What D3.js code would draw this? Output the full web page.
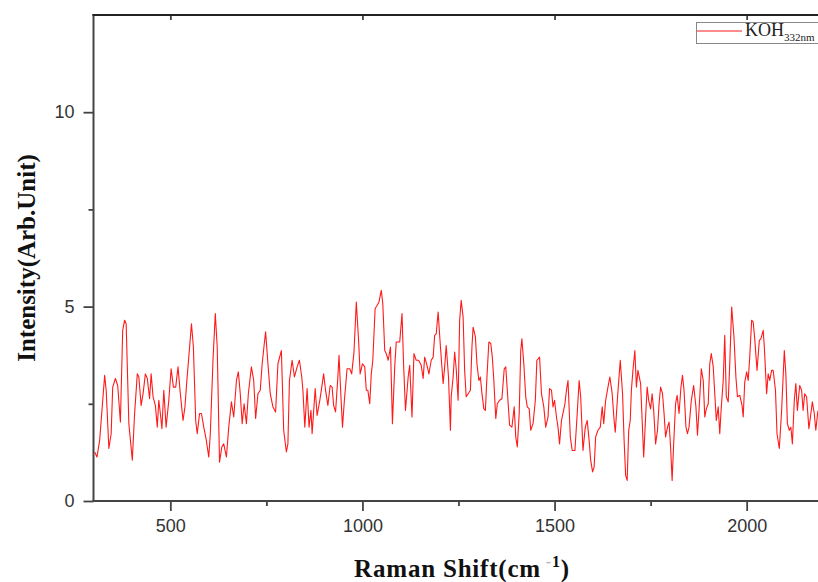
<!DOCTYPE html>
<html>
<head>
<meta charset="utf-8">
<script src="https://cdn.jsdelivr.net/npm/d3@7"></script>
<style>
  html, body { margin: 0; padding: 0; background: #fff; }
  svg { display: block; }
</style>
</head>
<body>
<svg id="chart" width="818" height="582"></svg>
<script>
// ---- Data ----
const wavenumbers = [303,309,316,329,333,340,346,350,357,363,370,376,381,385,392,401,407,414,418,424,429,435,440,446,450,455,461,466,470,474,478,483,489,496,502,508,514,520,526,533,538,543,548,555,560,566,570,576,581,587,593,600,604,611,617,622,628,634,639,646,652,659,665,672,677,682,687,692,698,703,711,717,722,728,734,739,744,748,754,760,767,774,780,
789,795,802,806,810,817,823,830,836,842,845,850,856,861,866,869,877,882,889,893,899,904,910,916,921,925,930,936,939,942,948,953,960,967,972,978,984,990,994,1000,1006,1010,1014,1019,1023,1027,1033,1038,1043,1049,1053,1058,1062,1067,1073,1078,1084,1088,1097,1103,1107,1112,1119,1123,1129,1134,1140,1146,1153,1158,1162,1168,1173,1179,1184,1188,1192,1197,1203,1210,1214,1218,1224,1229,
1231,1236,1240,1244,1249,1253,1257,1262,1266,1270,1275,1281,1285,1288,1294,1298,1303,1307,1311,1316,1320,1324,1329,1334,1338,1342,1347,1351,1357,1363,1369,1373,1377,1383,1389,1395,1399,1403,1408,1412,1415,1420,1425,1429,1434,1438,1444,1450,1454,1461,1466,1472,1477,1483,1487,1492,1496,1500,1505,1509,1513,1518,1527,1531,1535,1541,1546,1553,1559,1564,1568,1574,1580,1585,1590,1594,1599,1603,1607,1613,1619,1624,1628,1633,1639,1644,1650,1655,1658,1664,1671,1677,1681,1685,1689,1693,1697,
1700,1704,1709,1713,1717,1724,1728,1732,1737,1741,1745,1750,1754,1758,1763,1768,1772,1776,1781,1785,1789,1794,1798,1802,1806,1810,1815,1819,1824,1829,1833,1837,1842,1846,1850,1856,1862,1868,1872,1876,1882,1887,1891,1895,1900,1904,1908,1913,1917,1921,1926,1930,1934,1939,1943,1947,1952,1956,1961,1967,1972,1976,1982,1988,1991,1995,2000,2004,2008,2013,2017,2021,2027,2033,2037,2043,2046,2052,2056,2060,2065,2069,2075,2079,2085,2091,2098,2102,2106,2111,2115,2119,2124,2128,2132,2138,2143,2147,2151,2156,2162,2166,2171,2176,2180,2185,2192,2200];

const intensity = [1.26,1.13,1.56,3.23,2.85,1.35,1.73,2.93,3.15,2.97,2.03,4.39,4.65,4.56,1.99,1.05,2.25,3.27,3.19,2.46,2.76,3.27,3.15,2.63,3.27,2.68,2.46,1.90,2.59,2.25,1.86,2.85,1.90,2.59,3.40,2.93,2.93,3.45,2.76,2.07,2.42,3.10,3.70,4.56,3.96,2.07,1.73,2.25,2.25,1.90,1.60,1.13,1.73,3.62,4.82,3.96,1.00,1.39,1.47,1.13,1.90,2.55,2.16,3.10,3.32,2.76,1.99,2.50,1.99,2.76,3.45,3.10,2.12,2.76,2.85,3.53,4.00,4.35,3.53,2.76,2.42,2.29,3.53,
3.87,1.82,1.26,1.47,3.10,3.62,3.19,3.45,3.62,3.19,2.85,1.90,2.89,1.90,2.33,1.73,2.89,2.20,2.59,2.85,3.27,2.85,2.46,2.97,2.93,2.46,2.29,3.19,3.75,3.10,1.90,2.59,3.40,3.40,3.27,3.83,5.12,4.13,3.27,3.53,3.45,2.85,2.85,2.50,3.27,3.62,4.95,5.03,5.12,5.42,5.07,3.87,3.79,3.62,3.96,1.99,3.45,4.09,4.09,4.82,3.53,2.33,3.19,3.49,2.16,3.79,3.62,3.62,3.49,3.15,3.70,3.49,3.27,3.62,3.70,4.26,4.30,4.86,3.96,3.02,3.45,4.00,3.19,1.82,
2.68,3.19,3.83,3.40,2.59,4.65,5.16,4.73,3.36,2.68,2.76,2.85,3.96,4.47,4.22,3.53,3.10,3.19,2.76,2.37,2.33,3.19,4.09,4.05,3.70,3.10,2.12,2.50,2.59,2.63,3.40,3.45,2.85,1.95,1.90,2.42,1.65,1.39,2.25,3.87,4.17,3.53,2.68,2.42,2.37,1.82,1.99,2.59,3.62,3.70,2.76,2.42,1.90,2.16,2.89,2.85,2.42,2.59,2.16,1.90,1.47,2.07,2.50,2.85,3.10,1.65,1.30,1.30,2.25,3.10,2.68,1.30,1.90,2.07,1.56,1.05,0.75,0.87,1.65,1.82,1.90,2.42,1.99,2.59,2.93,3.19,2.76,2.07,1.77,2.68,3.62,2.76,1.56,0.66,0.53,1.82,2.07,
2.85,3.36,3.87,2.93,3.36,3.02,2.07,1.13,2.16,2.93,2.59,2.37,2.76,2.33,1.47,1.82,2.50,2.93,2.76,2.25,1.65,1.90,2.03,1.39,0.53,1.47,2.50,2.72,2.25,2.93,3.23,2.85,1.90,1.73,1.90,2.59,2.97,2.42,1.69,2.33,3.40,3.10,2.16,2.37,2.50,3.53,3.79,3.45,2.76,2.07,2.42,1.73,2.42,3.10,4.26,2.68,2.55,3.53,4.99,4.22,3.19,2.68,2.72,2.46,2.16,3.06,3.32,3.10,3.70,4.65,4.60,4.17,3.36,4.13,4.17,4.39,3.96,2.76,3.27,3.10,3.36,3.36,2.85,1.73,1.35,2.33,3.87,3.27,1.99,1.82,1.90,1.47,2.59,3.02,2.33,2.97,2.85,2.33,2.76,2.68,1.86,2.16,2.55,2.25,1.82,2.29,2.45,2.10];

const xDomain = [300, 2200];
const yDomain = [0, 12.5];
const xMajorTicks = [500, 1000, 1500, 2000];
const xMinorTicks = [750, 1250, 1750];
const yMajorTicks = [0, 5, 10];
const yMinorTicks = [2.5, 7.5];
const seriesName = "KOH";
const seriesSub = "332nm";
const xTitle = "Raman Shift(cm";
const yTitle = "Intensity(Arb.Unit)";

// ---- Layout ----
const svg = d3.select("#chart");
const pL = 93.5, pR = 823.5, pT = 15, pB = 501;
const x = d3.scaleLinear().domain(xDomain).range([pL, pR]);
const y = d3.scaleLinear().domain(yDomain).range([pB, pT]);

const axisColor = "#444";
const tickFont = "'Liberation Sans', Arial, sans-serif";
const serif = "'Liberation Serif', 'Times New Roman', serif";

svg.append("defs").append("clipPath").attr("id", "plotClip")
  .append("rect").attr("x", pL).attr("y", pT).attr("width", pR - pL).attr("height", pB - pT);

// Data line
const data = wavenumbers.map((w, i) => ({ w, v: intensity[i] }));
svg.append("path")
  .datum(data)
  .attr("clip-path", "url(#plotClip)")
  .attr("fill", "none")
  .attr("stroke", "#ff1a1a")
  .attr("stroke-width", 1.1)
  .attr("stroke-linejoin", "round")
  .attr("d", d3.line().x(d => x(d.w)).y(d => y(d.v)));

function styleAxis(g) {
  g.selectAll(".domain").remove();
  g.selectAll("line").attr("stroke", axisColor).attr("stroke-width", 1.8);
  g.selectAll("text").attr("font-family", tickFont).attr("font-size", 18).attr("fill", "#333");
}

// Bottom axis
svg.append("g").attr("transform", `translate(0,${pB})`)
  .call(d3.axisBottom(x).tickValues(xMajorTicks).tickSize(10).tickPadding(8).tickFormat(d3.format("d")))
  .call(styleAxis);
svg.append("g").attr("transform", `translate(0,${pB})`)
  .call(d3.axisBottom(x).tickValues(xMinorTicks).tickSize(5).tickFormat(""))
  .call(styleAxis);

// Top axis (inward ticks)
svg.append("g").attr("transform", `translate(0,${pT})`)
  .call(d3.axisBottom(x).tickValues(xMajorTicks).tickSize(5).tickFormat(""))
  .call(styleAxis);

// Left axis
svg.append("g").attr("transform", `translate(${pL},0)`)
  .call(d3.axisLeft(y).tickValues(yMajorTicks).tickSize(10).tickPadding(9).tickFormat(d3.format("d")))
  .call(styleAxis);
svg.append("g").attr("transform", `translate(${pL},0)`)
  .call(d3.axisLeft(y).tickValues(yMinorTicks).tickSize(5).tickFormat(""))
  .call(styleAxis);

// Frame lines
svg.append("line").attr("x1", pL).attr("x2", pL).attr("y1", pT - 1).attr("y2", pB + 1)
  .attr("stroke", axisColor).attr("stroke-width", 2);
svg.append("line").attr("x1", pL - 1).attr("x2", 818).attr("y1", pB).attr("y2", pB)
  .attr("stroke", axisColor).attr("stroke-width", 2);
svg.append("line").attr("x1", pL - 1).attr("x2", 818).attr("y1", pT).attr("y2", pT)
  .attr("stroke", "#222").attr("stroke-width", 2);

// Axis titles
const xt = svg.append("text")
  .attr("x", 462).attr("y", 577)
  .attr("text-anchor", "middle")
  .attr("font-family", serif).attr("font-weight", "bold").attr("font-size", 25).attr("fill", "#111")
  .attr("letter-spacing", 0.8);
xt.append("tspan").text(xTitle);
xt.append("tspan").attr("dy", -10).attr("font-size", 16).attr("fill", "#bbb").text("\u00a0-");
xt.append("tspan").attr("font-size", 16).text("1");
xt.append("tspan").attr("dy", 10).text(")");

svg.append("text")
  .attr("transform", `translate(35,258) rotate(-90)`)
  .attr("text-anchor", "middle")
  .attr("font-family", serif).attr("font-weight", "bold").attr("font-size", 25).attr("fill", "#111")
  .text(yTitle);

// Legend
const lg = svg.append("g");
lg.append("rect").attr("x", 696.5).attr("y", 22.5).attr("width", 140).attr("height", 21)
  .attr("fill", "#fff").attr("stroke", "#888").attr("stroke-width", 1);
lg.append("line").attr("x1", 697).attr("x2", 742).attr("y1", 31).attr("y2", 31)
  .attr("stroke", "#ff1a1a").attr("stroke-width", 1.1);
const lt = lg.append("text").attr("x", 745).attr("y", 36)
  .attr("font-family", serif).attr("font-size", 18).attr("fill", "#222");
lt.append("tspan").text(seriesName);
lt.append("tspan").attr("dy", 5).attr("font-size", 11).text(seriesSub);
</script>
</body>
</html>
